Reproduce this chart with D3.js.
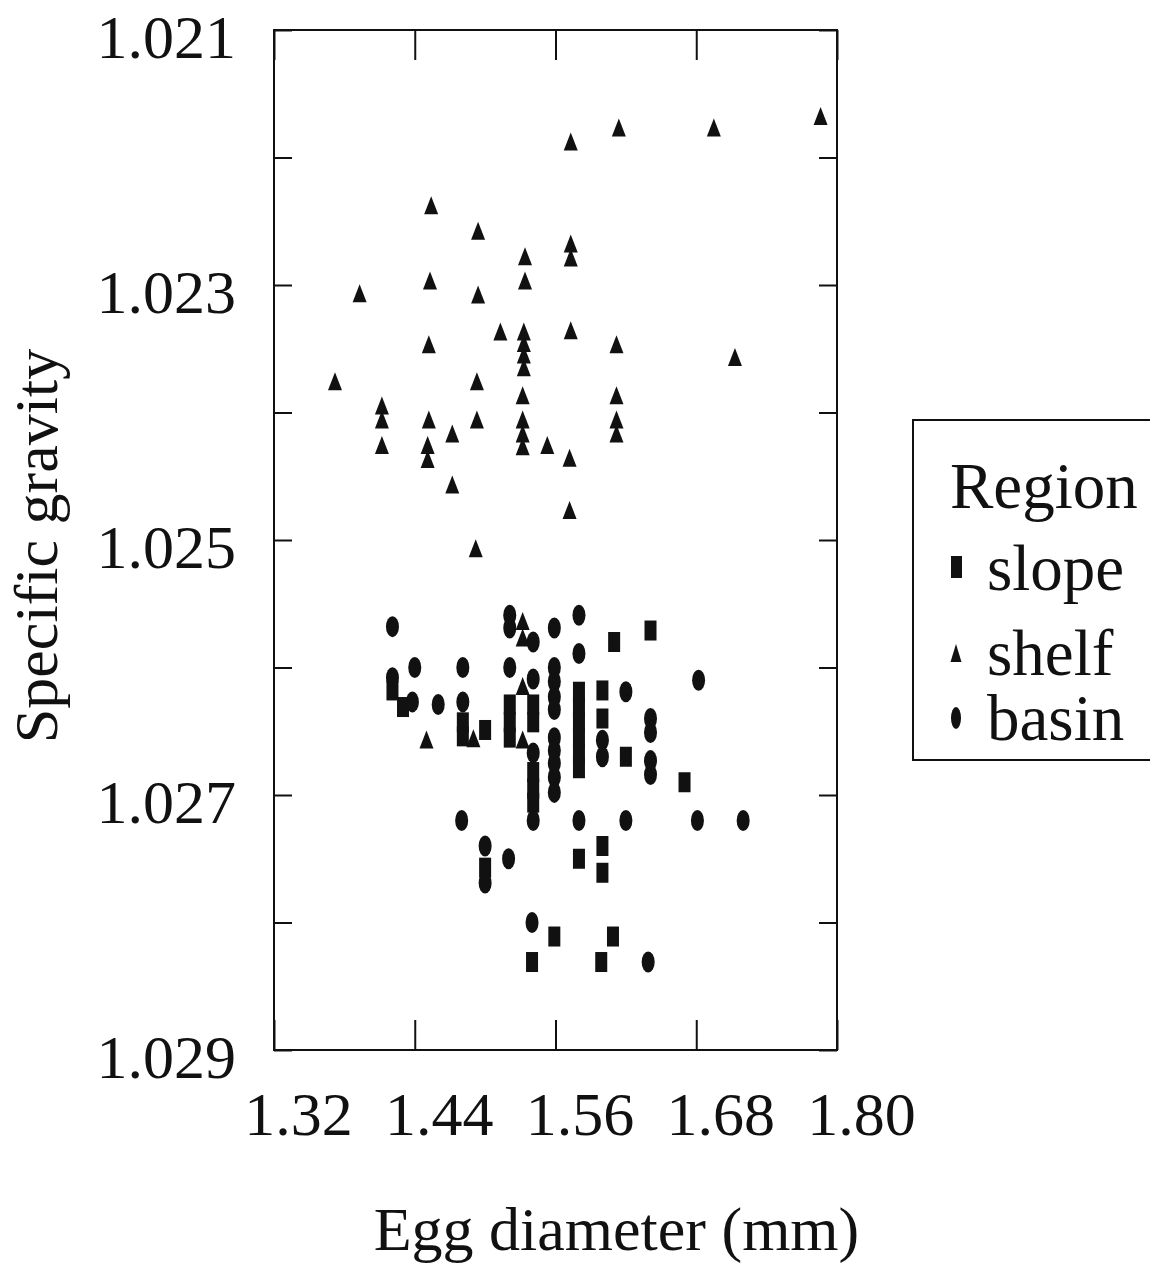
<!DOCTYPE html>
<html>
<head>
<meta charset="utf-8">
<script src="https://cdn.jsdelivr.net/npm/d3@7"></script>
<style>
  body { margin: 0; background: #fff; }
  svg text { font-family: "Liberation Serif", "Times New Roman", serif; fill: #111; }
</style>
</head>
<body>
<svg id="svg"></svg>
<script>
const svgWidth = 1150;
const svgHeight = 1264;

// egg diameter (mm), specific gravity
const slopePoints = [
  [1.421, 1.02618], [1.430, 1.02631], [1.481, 1.02643], [1.481, 1.02654],
  [1.500, 1.02649], [1.521, 1.02629], [1.521, 1.02643], [1.521, 1.02655],
  [1.541, 1.02629], [1.541, 1.02643], [1.541, 1.02682], [1.541, 1.02695],
  [1.541, 1.02706], [1.580, 1.02619], [1.580, 1.02631], [1.580, 1.02643],
  [1.580, 1.02655], [1.580, 1.02667], [1.580, 1.02679], [1.600, 1.02618],
  [1.600, 1.02640], [1.610, 1.02580], [1.641, 1.02571], [1.620, 1.02670],
  [1.670, 1.02690], [1.500, 1.02757], [1.580, 1.02750], [1.600, 1.02740],
  [1.600, 1.02761], [1.559, 1.02811], [1.609, 1.02811], [1.540, 1.02831],
  [1.599, 1.02831]
];

const shelfPoints = [
  [1.573, 1.02189], [1.614, 1.02178], [1.695, 1.02178], [1.786, 1.02169],
  [1.454, 1.02239], [1.494, 1.02259], [1.573, 1.02269], [1.573, 1.02280],
  [1.534, 1.02279], [1.453, 1.02298], [1.534, 1.02298], [1.393, 1.02308],
  [1.494, 1.02309], [1.452, 1.02348], [1.513, 1.02338], [1.533, 1.02338],
  [1.533, 1.02347], [1.533, 1.02356], [1.533, 1.02366], [1.573, 1.02337],
  [1.612, 1.02348], [1.713, 1.02358], [1.372, 1.02377], [1.493, 1.02377],
  [1.532, 1.02388], [1.612, 1.02388], [1.412, 1.02396], [1.412, 1.02407],
  [1.452, 1.02407], [1.493, 1.02407], [1.532, 1.02407], [1.532, 1.02418],
  [1.532, 1.02428], [1.612, 1.02407], [1.612, 1.02418], [1.472, 1.02418],
  [1.412, 1.02427], [1.451, 1.02427], [1.451, 1.02438], [1.553, 1.02427],
  [1.572, 1.02437], [1.472, 1.02458], [1.572, 1.02478], [1.492, 1.02508],
  [1.532, 1.02565], [1.532, 1.02578], [1.532, 1.02616], [1.450, 1.02658],
  [1.490, 1.02657], [1.532, 1.02658]
];

const basinPoints = [
  [1.421, 1.02568], [1.521, 1.02559], [1.521, 1.02569], [1.541, 1.02580],
  [1.559, 1.02569], [1.580, 1.02559], [1.580, 1.02589], [1.440, 1.02600],
  [1.481, 1.02600], [1.521, 1.02600], [1.541, 1.02609], [1.421, 1.02608],
  [1.438, 1.02627], [1.460, 1.02629], [1.481, 1.02627], [1.559, 1.02600],
  [1.559, 1.02611], [1.559, 1.02623], [1.559, 1.02633], [1.559, 1.02655],
  [1.559, 1.02665], [1.559, 1.02675], [1.559, 1.02686], [1.559, 1.02698],
  [1.620, 1.02619], [1.682, 1.02610], [1.600, 1.02657], [1.600, 1.02670],
  [1.641, 1.02640], [1.641, 1.02651], [1.641, 1.02673], [1.641, 1.02684],
  [1.541, 1.02667], [1.541, 1.02720], [1.480, 1.02720], [1.580, 1.02720],
  [1.620, 1.02720], [1.681, 1.02720], [1.720, 1.02720], [1.500, 1.02740],
  [1.500, 1.02769], [1.520, 1.02750], [1.540, 1.02800], [1.639, 1.02831]
];

const xTicks = [1.32, 1.44, 1.56, 1.68, 1.80];
const yTicks = [1.021, 1.022, 1.023, 1.024, 1.025, 1.026, 1.027, 1.028, 1.029];
const yLabelled = [1.021, 1.023, 1.025, 1.027, 1.029];
const legendItems = ["slope", "shelf", "basin"];

const fontSize = 62;
const legendFont = 65;
const plot = { left: 274, right: 837, top: 30, bottom: 1050 };

const svg = d3.select("#svg").attr("width", svgWidth).attr("height", svgHeight);

const xScale = d3.scaleLinear().domain([1.32, 1.80]).range([plot.left, plot.right]);
const yScale = d3.scaleLinear().domain([1.021, 1.029]).range([plot.top, plot.bottom]);

// frame
svg.append("rect")
  .attr("x", plot.left).attr("y", plot.top)
  .attr("width", plot.right - plot.left).attr("height", plot.bottom - plot.top)
  .attr("fill", "none").attr("stroke", "#111").attr("stroke-width", 2);

// left axis with labels
const yAxisLeft = svg.append("g")
  .attr("transform", `translate(${plot.left},0)`)
  .call(d3.axisLeft(yScale).tickValues(yTicks).tickSize(-18).tickPadding(38)
    .tickFormat(d => yLabelled.some(v => Math.abs(v - d) < 1e-9) ? d3.format(".3f")(d) : ""));

// right ticks
const yAxisRight = svg.append("g")
  .attr("transform", `translate(${plot.right},0)`)
  .call(d3.axisRight(yScale).tickValues(yTicks).tickSize(-18).tickFormat(""));

// bottom axis with labels
const xAxis = svg.append("g")
  .attr("transform", `translate(0,${plot.bottom})`)
  .call(d3.axisBottom(xScale).tickValues(xTicks).tickSize(-30).tickPadding(42)
    .tickFormat(d3.format(".2f")));

// top ticks
const xAxisTop = svg.append("g")
  .attr("transform", `translate(0,${plot.top})`)
  .call(d3.axisTop(xScale).tickValues(xTicks).tickSize(-30).tickFormat(""));

[yAxisLeft, yAxisRight, xAxis, xAxisTop].forEach(g => {
  g.select(".domain").remove();
  g.selectAll("line").attr("stroke", "#111").attr("stroke-width", 2);
  g.selectAll("text")
    .style("font-family", '"Liberation Serif", "Times New Roman", serif')
    .style("font-size", fontSize + "px")
    .attr("fill", "#111");
});
yAxisLeft.selectAll("text").attr("dy", "0.45em").attr("x", -38);
xAxis.selectAll("text").attr("dx", 24).attr("dy", "0.7em");

// axis titles
svg.append("text")
  .attr("x", (plot.left + plot.right) / 2 + 61)
  .attr("y", 1250)
  .attr("text-anchor", "middle")
  .style("font-size", fontSize + "px")
  .text("Egg diameter (mm)");

svg.append("text")
  .attr("transform", `translate(57,546) rotate(-90)`)
  .attr("text-anchor", "middle")
  .style("font-size", fontSize + "px")
  .text("Specific gravity");

// markers
const triPath = "M0,-11L7,7L-7,7Z";
const chart = svg.append("g");

chart.selectAll(".slope").data(slopePoints).join("rect")
  .attr("class", "slope")
  .attr("x", d => xScale(d[0]) - 6)
  .attr("y", d => yScale(d[1]) - 10)
  .attr("width", 12).attr("height", 20)
  .attr("fill", "#111");

chart.selectAll(".basin").data(basinPoints).join("ellipse")
  .attr("class", "basin")
  .attr("cx", d => xScale(d[0]))
  .attr("cy", d => yScale(d[1]))
  .attr("rx", 6.5).attr("ry", 10.5)
  .attr("fill", "#111");

chart.selectAll(".shelf").data(shelfPoints).join("path")
  .attr("class", "shelf")
  .attr("transform", d => `translate(${xScale(d[0])},${yScale(d[1])})`)
  .attr("d", triPath)
  .attr("fill", "#111");

// legend
const legend = svg.append("g");
legend.append("rect")
  .attr("x", 913).attr("y", 420)
  .attr("width", 300).attr("height", 340)
  .attr("fill", "none").attr("stroke", "#111").attr("stroke-width", 2);

legend.append("text")
  .attr("x", 950).attr("y", 508)
  .style("font-size", legendFont + "px")
  .text("Region");

const rowY = [590, 675, 740];
legendItems.forEach((name, i) => {
  legend.append("text")
    .attr("x", 987).attr("y", rowY[i])
    .style("font-size", legendFont + "px")
    .text(name);
});
legend.append("rect").attr("x", 951).attr("y", 556).attr("width", 11).attr("height", 22).attr("fill", "#111");
legend.append("path").attr("transform", "translate(956,655)").attr("d", "M0,-11L5.5,7L-5.5,7Z").attr("fill", "#111");
legend.append("ellipse").attr("cx", 956).attr("cy", 718).attr("rx", 5).attr("ry", 11).attr("fill", "#111");
</script>
</body>
</html>
